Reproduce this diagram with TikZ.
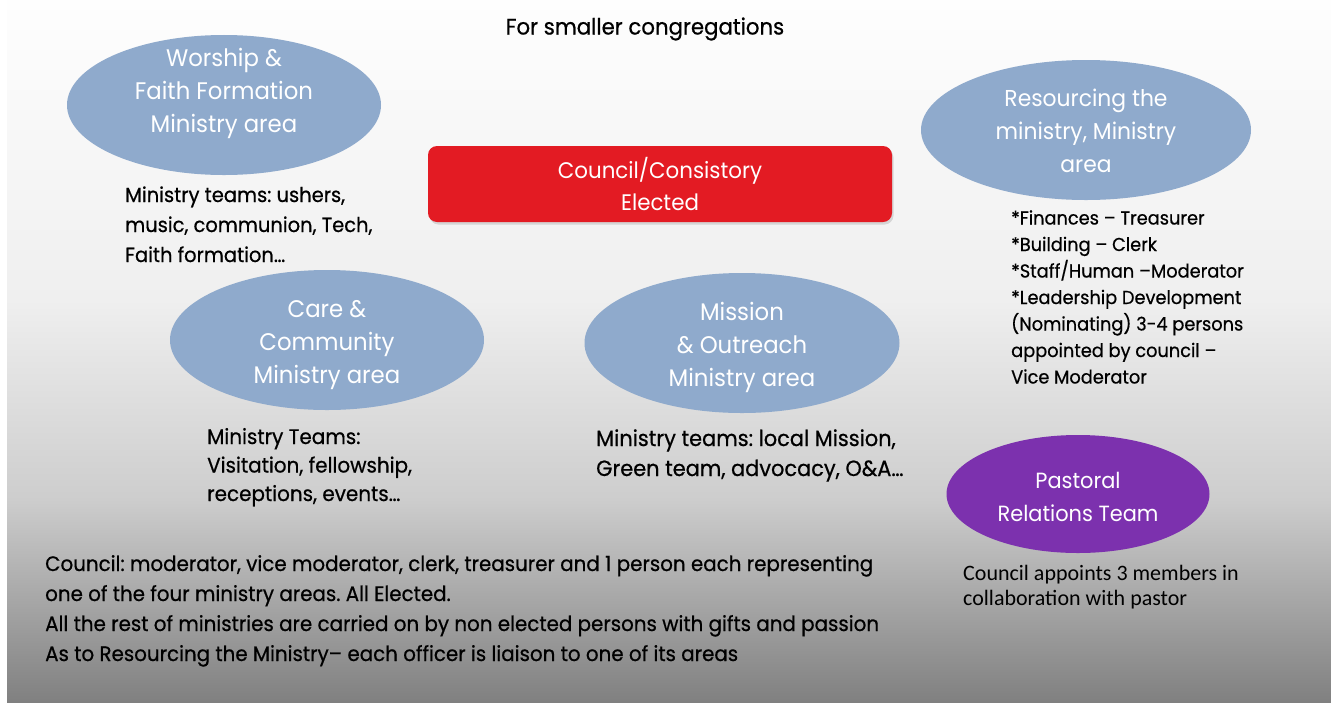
\documentclass[tikz,border=0pt]{standalone}
\usepackage{fontspec}
\setmainfont{Poppins}[FakeStretch=0.95]
\newfontfamily\bodyfont{Poppins}[FakeStretch=0.95,FakeBold=0.6,Ligatures=TeX]
\newfontfamily\calfont{Carlito}
\usetikzlibrary{shapes.geometric}
\frenchspacing
\definecolor{ellblue}{HTML}{8FAACC}
\definecolor{boxred}{HTML}{E31B23}
\definecolor{prtpurple}{HTML}{7C31AE}
\definecolor{bgA}{HTML}{FEFEFE}
\definecolor{bgB}{HTML}{EFEFEF}
\definecolor{bgC}{HTML}{CDCDCD}
\definecolor{bgD}{HTML}{808080}
\newcommand\mlines[1]{\begin{tabular}[t]{@{}l@{}}#1\end{tabular}}
\newcommand\clines[2][-3.5pt]{\raisebox{#1}[\height][\depth]{\begin{tabular}{@{}c@{}}#2\end{tabular}}}
\tikzset{
  area/.style={ellipse, fill=ellblue, inner sep=0pt, text=white,
    font=\fontsize{24}{33}\selectfont},
  bodytext/.style={anchor=base west, inner sep=0pt, text=black},
}
\begin{document}
\begin{tikzpicture}[x=1pt,y=-1pt]
\useasboundingbox (0,0) rectangle (1331,702);
\fill[white] (0,0) rectangle (1331,702);
\shade[top color=bgA, bottom color=bgB] (7,0) rectangle (1331,300);
\shade[top color=bgB, bottom color=bgC] (7,299.5) rectangle (1331,500);
\shade[top color=bgC, bottom color=bgD] (7,499.5) rectangle (1331,702);

% title
\node[anchor=base, inner sep=0pt, font=\fontsize{22.4}{26}\selectfont\bodyfont] (title) at (645,34.5) {For smaller congregations};

% ministry area ellipses
\node[area, minimum width=314pt, minimum height=140pt] (worship) at (224,105)
  {\clines[12.5pt]{Worship \&\\Faith Formation\\Ministry area}};
\node[area, minimum width=314pt, minimum height=136pt] (care) at (327,340)
  {\clines{Care \&\\Community\\Ministry area}};
\node[area, minimum width=315pt, minimum height=140pt] (mission) at (742,343)
  {\clines{Mission\\\& Outreach\\Ministry area}};
\node[area, minimum width=330pt, minimum height=136pt, font=\fontsize{23}{33}\selectfont] (resourcing) at (1086,130)
  {\clines[-2.5pt]{Resourcing the\\ministry, Ministry\\area}};
\node[area, fill=prtpurple, minimum width=263pt, minimum height=118pt, font=\fontsize{22}{33}\selectfont] (pastoral) at (1078,494)
  {\clines[-4pt]{Pastoral\\Relations Team}};

% council box
\fill[black, opacity=0.12, rounded corners=9pt] (429.5,148.5) rectangle (893.5,224.5);
\node[fill=boxred, rounded corners=9pt, minimum width=464pt, minimum height=76pt,
  inner sep=0pt, text=white, font=\fontsize{22.5}{32}\selectfont] (council) at (660,184)
  {\clines[-4pt]{Council/Consistory\\Elected}};

% descriptive texts
\node[bodytext, font=\fontsize{20.5}{30}\selectfont\bodyfont] (worshipteams) at (125,202)
  {\mlines{Ministry teams: ushers,\\music, communion, Tech,\\Faith formation\dots}};
\node[bodytext, font=\fontsize{18.7}{26.5}\selectfont\bodyfont] (resteams) at (1011,224.5)
  {\mlines{{*}Finances -- Treasurer\\{*}Building -- Clerk\\{*}Staff/Human --Moderator\\{*}Leadership Development\\(Nominating) 3-4 persons\\appointed by council --\\Vice Moderator}};
\node[bodytext, font=\fontsize{21}{28.5}\selectfont\bodyfont] (careteams) at (207,444)
  {\mlines{Ministry Teams:\\Visitation, fellowship,\\receptions, events\dots}};
\node[bodytext, font=\fontsize{22}{30}\selectfont\bodyfont] (missionteams) at (596,446)
  {\mlines{Ministry teams: local Mission,\\Green team, advocacy, O\&A\dots}};
\node[bodytext, font=\fontsize{22}{25}\selectfont\calfont] (prtnote) at (963,580)
  {\mlines{Council appoints 3 members in\\collaboration with pastor}};
\node[bodytext, font=\fontsize{20.9}{30}\selectfont\bodyfont] (councilnote) at (45,571)
  {\mlines{Council: moderator, vice moderator, clerk, treasurer and 1 person each representing\\one of the four ministry areas. All Elected.\\All the rest of ministries are carried on by non elected persons with gifts and passion\\As to Resourcing the Ministry-- each officer is liaison to one of its areas}};
\end{tikzpicture}
\end{document}
